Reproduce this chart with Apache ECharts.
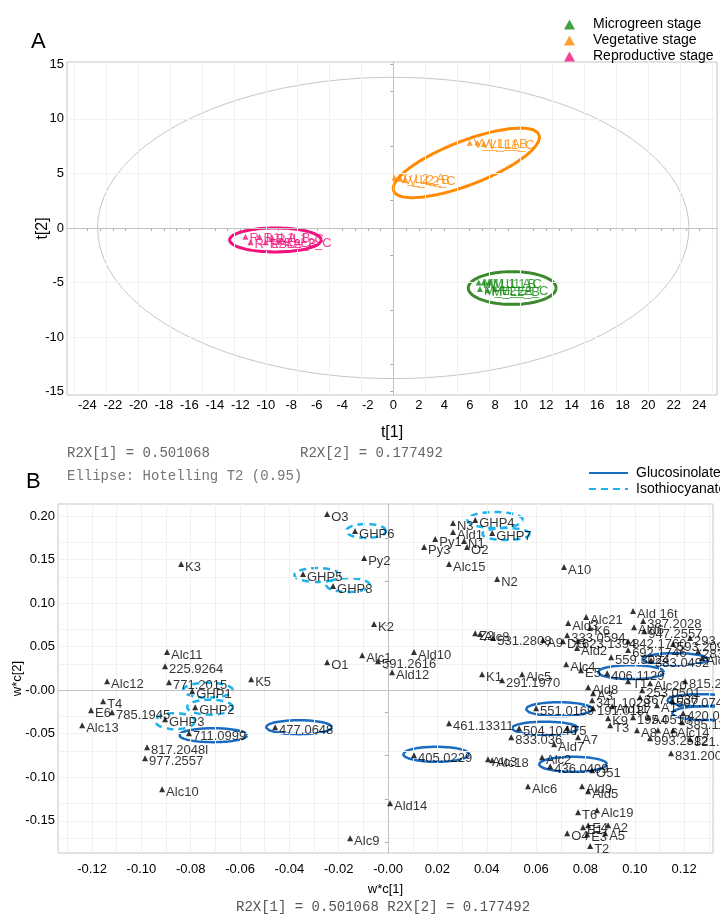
<!DOCTYPE html>
<html><head><meta charset="utf-8">
<script src="https://cdn.jsdelivr.net/npm/echarts@6/dist/echarts.min.js"></script>
<style>html,body{margin:0;padding:0;background:#fff}#c{width:720px;height:915px}</style>
</head><body><div id="c"></div>
<script>
// ---------- Panel A : scores t[1] / t[2] ----------
const stageNames = ['Microgreen stage', 'Vegetative stage', 'Reproductive stage'];
const microLabels = ['M_L1_A', 'M_L1_B', 'M_L1_C', 'M_L2_A', 'M_L2_B', 'M_L2_C'];
const microScores = [[6.7,-5.0],[7.1,-5.0],[7.5,-5.0],[6.8,-5.6],[7.4,-5.7],[8.0,-5.6]];
const vegLabels = ['V_L1_A', 'V_L1_B', 'V_L1_C', 'V_L2_A', 'V_L2_B', 'V_L2_C'];
const vegScores = [[6.0,7.8],[6.6,7.8],[7.1,7.7],[0.1,4.6],[0.5,4.5],[0.9,4.4]];
const repLabels = ['R_L1_A', 'R_L1_B', 'R_L1_C', 'R_L2_A', 'R_L2_B', 'R_L2_C'];
const repScores = [[-11.6,-0.8],[-10.5,-0.8],[-9.5,-0.9],[-11.2,-1.3],[-10.0,-1.3],[-8.9,-1.2]];
// ellipses: [centre t1, centre t2, axis1 dt1, axis1 dt2, axis2 dt1, axis2 dt2]
const hotellingEllipse = [0, 0, 23.2, 0, 0, 13.8];
const microEllipse = [9.33, -5.5, 3.45, 0, 0, 1.5];
const vegEllipse = [5.73, 5.96, 5.71, 2.57, 0.62, -1.88];
const repEllipse = [-9.25, -1.1, 3.6, 0, 0, 1.1];
const tickLabelsAx = [-24,-22,-20,-18,-16,-14,-12,-10,-8,-6,-4,-2,0,2,4,6,8,10,12,14,16,18,20,22,24];
const tickLabelsAy = [-15,-10,-5,0,5,10,15];

// ---------- Panel B : loadings w*c[1] / w*c[2] ----------
const loadNames = ['O3','GHP6','K3','GHP5','GHP8','Py2','N3','GHP4','Ald1','Py1','N1','GHP7','O2','Py3','Alc15','A10','N2','K2',
 'Alc11','225.9264','O1','Alc12','771.2015','K5','GHP1','T4','E6','785.1945','GHP2','GHP3','Alc13','711.0999','477.0648','817.2048l','977.2557','Alc10',
 'Alc1','591.2616','Ald10','Ald12','K1','291.1970','Alc5','Z2','Alc8','531.2808','A9','DG','Alc21','Ald3','K6','333.0594','Ald2',
 'Ald 16t','387.2028','Ald6','947.2557','293.2075','623.1394','842.1760','593.2093','692.1746','283.1076','Alc4','E5','559.3024','406.1129','383.0492','Alc17',
 'T1','Alc20','815.2002','Ald8','253.0501','A3','341.1029','367.1030','507.0742','A1','551.0169','191.0187','Ald11','195.0510','A4','420.0468',
 'K9','T3','385.1142','A8','A6','Alc14','993.2512','821.2103','831.2008','461.13311','504.1040','T5','A7','833.036','Ald7','405.0229',
 'Alc3','Alc18','Alc2','436.0409','O51','Alc6','Ald9','Ald5','Ald14','T6','Alc19','E4','E1','A2','O4','E3','A5','Alc9','T2'];
const loadValues = [[-0.0247,0.2023],[-0.0134,0.1828],[-0.0839,0.1448],[-0.0345,0.1333],[-0.0223,0.1195],[-0.0097,0.1517],[0.0263,0.1920],[0.0353,0.1954],
 [0.0263,0.1816],[0.0191,0.1736],[0.0308,0.1713],[0.0422,0.1805],[0.0320,0.1644],[0.0146,0.1644],[0.0247,0.1448],[0.0713,0.1414],[0.0442,0.1276],[-0.0057,0.0759],
 [-0.0896,0.0437],[-0.0904,0.0276],[-0.0247,0.0322],[-0.1139,0.0103],[-0.0888,0.0092],[-0.0555,0.0126],[-0.0794,-0.0011],[-0.1155,-0.0126],[-0.1204,-0.0230],
 [-0.1119,-0.0253],[-0.0782,-0.0195],[-0.0904,-0.0333],[-0.1240,-0.0402],[-0.0807,-0.0494],[-0.0458,-0.0425],[-0.0977,-0.0655],[-0.0985,-0.0782],[-0.0916,-0.1138],
 [-0.0105,0.0402],[-0.0041,0.0333],[0.0105,0.0437],[0.0016,0.0207],[0.0381,0.0184],[0.0462,0.0115],[0.0543,0.0184],[0.0353,0.0655],[0.0373,0.0644],[0.0426,0.0598],
 [0.0628,0.0575],[0.0709,0.0563],[0.0803,0.0839],[0.0730,0.0770],[0.0819,0.0713],[0.0726,0.0632],[0.0766,0.0483],
 [0.0993,0.0908],[0.1034,0.0793],[0.0997,0.0724],[0.1038,0.0678],[0.1224,0.0598],[0.0770,0.0563],[0.0973,0.0563],[0.1155,0.0529],[0.0973,0.0460],[0.1257,0.0448],
 [0.0722,0.0299],[0.0782,0.0230],[0.0904,0.0379],[0.0888,0.0195],[0.1066,0.0345],[0.1273,0.0368],
 [0.0973,0.0103],[0.1062,0.0080],[0.1204,0.0103],[0.0811,0.0034],[0.1030,0.0000],[0.0831,-0.0034],[0.0827,-0.0115],[0.1021,-0.0080],[0.1151,-0.0115],[0.1090,-0.0172],
 [0.0600,-0.0207],[0.0831,-0.0207],[0.0908,-0.0184],[0.0993,-0.0310],[0.1054,-0.0310],[0.1196,-0.0264],
 [0.0892,-0.0322],[0.0900,-0.0402],[0.1192,-0.0368],[0.1009,-0.0460],[0.1094,-0.0460],[0.1155,-0.0460],[0.1062,-0.0552],[0.1224,-0.0563],[0.1147,-0.0724],
 [0.0247,-0.0379],[0.0531,-0.0437],[0.0726,-0.0437],[0.0770,-0.0540],[0.0499,-0.0540],[0.0673,-0.0621],[0.0105,-0.0747],
 [0.0405,-0.0793],[0.0422,-0.0805],[0.0624,-0.0770],[0.0657,-0.0874],[0.0827,-0.0920],[0.0567,-0.1103],[0.0786,-0.1103],[0.0811,-0.1161],[0.0008,-0.1299],
 [0.0770,-0.1402],[0.0847,-0.1379],[0.0811,-0.1552],[0.0790,-0.1575],[0.0892,-0.1552],[0.0726,-0.1644],[0.0807,-0.1655],[0.0880,-0.1644],[-0.0154,-0.1701],[0.0819,-0.1790]];
// annotation ellipses [cx, cy, rx, ry]
const glucosinolateEllipses = [[-0.0709,-0.0517,0.0138,0.0080],[-0.0361,-0.0425,0.0134,0.0080],[0.0195,-0.0736,0.0134,0.0086],[0.0636,-0.0437,0.0134,0.0075],
 [0.0693,-0.0218,0.0134,0.0080],[0.0750,-0.0851,0.0138,0.0086],[0.0985,0.0207,0.0134,0.0080],[0.1163,0.0356,0.0134,0.0069],[0.1265,-0.0115,0.0134,0.0069],[0.1285,-0.0264,0.0134,0.0080]];
const isothiocyanateEllipses = [[-0.0089,0.1828,0.0081,0.0080],[-0.0288,0.1322,0.0093,0.0080],[-0.0162,0.1207,0.0089,0.0080],[0.0434,0.1954,0.0113,0.0092],
 [0.0478,0.1793,0.0097,0.0069],[-0.0730,0.0000,0.0101,0.0086],[-0.0722,-0.0195,0.0093,0.0086],[-0.0863,-0.0356,0.0081,0.0092]];
const tickLabelsBx = [-0.12,-0.10,-0.08,-0.06,-0.04,-0.02,0,0.02,0.04,0.06,0.08,0.10,0.12];
const tickLabelsBy = [-0.15,-0.10,-0.05,0,0.05,0.10,0.15,0.20];

// ---------- helpers ----------
function ellipsePoints(e) {
  const pts = [];
  for (let i = 0; i <= 90; i++) {
    const t = 2 * Math.PI * i / 90, c = Math.cos(t), s = Math.sin(t);
    pts.push([e[0] + e[2] * c + e[4] * s, e[1] + e[3] * c + e[5] * s]);
  }
  return pts;
}
function range(a, b, step) { const r = []; for (let v = a; v <= b + 1e-9; v += step) r.push(+v.toFixed(6)); return r; }
const FONT = 'Liberation Sans, Arial, sans-serif';
const MONO = 'Liberation Mono, DejaVu Sans Mono, monospace';
const fmt2 = v => (Math.abs(v) < 1e-9 ? '-0.00' : v.toFixed(2));

const colMicro = '#138a13', colVeg = '#ff8a00', colRep = '#f2127d';
const ellMicro = '#3b8a2d';
const frameCol = '#c4c4c4', gridCol = '#f1f1f1';

function scoreSeries(name, labels, scores, col) {
  return { type: 'scatter', name, xAxisIndex: 0, yAxisIndex: 0, symbol: 'triangle', symbolSize: 6,
    itemStyle: { color: col }, z: 5,
    data: labels.map((n, i) => ({ name: n, value: scores[i] })),
    label: { show: true, position: 'right', distance: 1, offset: [0, 2], formatter: '{b}', color: col, fontSize: 13, fontFamily: FONT } };
}
function ellSeries(name, pts, xi, col, width, type, z) {
  return { type: 'line', name, xAxisIndex: xi, yAxisIndex: xi, data: pts, symbol: 'none', showSymbol: false, silent: true, z: z || 3,
    lineStyle: { color: col, width, type: type || 'solid' }, itemStyle: { color: col }, clip: true };
}
function gridLines(xi, xs, ys, col) {
  return { type: 'line', xAxisIndex: xi, yAxisIndex: xi, data: [], silent: true, z: 1,
    markLine: { silent: true, symbol: ['none', 'none'], label: { show: false }, animation: false,
      lineStyle: { color: col, width: 1, type: 'solid' },
      data: xs.map(v => ({ xAxis: v })).concat(ys.map(v => ({ yAxis: v }))) } };
}

const series = [
  gridLines(0, range(-25, 25, 2.5), [-10, -5, 5, 10], gridCol),
  gridLines(0, [0], [0], '#c2c2c2'),
  ellSeries('', ellipsePoints(hotellingEllipse), 0, '#c6c6c6', 1),
  ellSeries('', ellipsePoints(microEllipse), 0, ellMicro, 3),
  ellSeries('', ellipsePoints(vegEllipse), 0, colVeg, 3),
  ellSeries('', ellipsePoints(repEllipse), 0, colRep, 3),
  scoreSeries(stageNames[0], microLabels, microScores, colMicro),
  scoreSeries(stageNames[1], vegLabels, vegScores, colVeg),
  scoreSeries(stageNames[2], repLabels, repScores, colRep),
  gridLines(1, range(-0.13, 0.13, 0.01), range(-0.175, 0.2, 0.025), gridCol),
  gridLines(1, [0], [0], '#c2c2c2'),
];
glucosinolateEllipses.forEach(e => series.push(ellSeries('Glucosinolate', ellipsePoints([e[0], e[1], e[2], 0, 0, e[3]]), 1, '#1a6cc0', 2.5, 'solid', 4)));
isothiocyanateEllipses.forEach(e => series.push(ellSeries('Isothiocyanate', ellipsePoints([e[0], e[1], e[2], 0, 0, e[3]]), 1, '#1bb3ec', 2.5, [7, 5], 4)));
series.push({ type: 'scatter', name: 'loadings', xAxisIndex: 1, yAxisIndex: 1, symbol: 'triangle', symbolSize: 6,
  itemStyle: { color: '#000' }, z: 6,
  data: loadNames.map((n, i) => ({ name: n, value: loadValues[i] })),
  label: { show: true, position: 'right', distance: 1, offset: [0, 3], formatter: '{b}', color: '#000', fontSize: 13, fontFamily: FONT } });

function valAxis(gi, min, max, labels, ticks, fmt, name, nameGap, nameSize, margin) {
  return { type: 'value', gridIndex: gi, min, max, name, nameLocation: 'middle', nameGap, nameMoveOverlap: false,
    nameTextStyle: { color: '#000', fontSize: nameSize, fontFamily: FONT },
    axisLine: { show: true, lineStyle: { color: frameCol } },
    axisTick: { show: true, inside: false, length: 3, customValues: ticks, lineStyle: { color: '#aaa' } },
    axisLabel: { customValues: labels, formatter: fmt, color: '#000', fontSize: 13, fontFamily: FONT, margin },
    splitLine: { show: false } };
}

const option = {
  animation: false,
  backgroundColor: '#fff',
  textStyle: { fontFamily: FONT },
  grid: [
    { left: 67, right: 3, top: 62, bottom: 520, show: true, borderColor: frameCol, borderWidth: 1 },
    { left: 58, right: 7, top: 504, bottom: 62, show: true, borderColor: frameCol, borderWidth: 1 }
  ],
  xAxis: [
    valAxis(0, -25.6, 25.4, tickLabelsAx, range(-25, 25, 1), v => String(v), 't[1]', 30, 16, 4),
    valAxis(1, -0.1338, 0.1317, tickLabelsBx, range(-0.13, 0.13, 0.01), fmt2, 'w*c[1]', 30, 13, 10)
  ],
  yAxis: [
    valAxis(0, -15.3, 15.2, tickLabelsAy, range(-15, 15, 2.5), v => String(v), 't[2]', 16, 16, 3),
    valAxis(1, -0.187, 0.2138, tickLabelsBy, range(-0.175, 0.2, 0.025), fmt2, 'w*c[2]', 34, 13, 3)
  ],
  legend: [
    { data: stageNames, orient: 'vertical', left: 559, top: 12, icon: 'triangle', itemWidth: 11, itemHeight: 10, itemGap: 1,
      textStyle: { fontSize: 14, color: '#000', fontFamily: FONT, lineHeight: 15, padding: [0, 0, 0, 13] }, selectedMode: false },
    { data: ['Glucosinolate', 'Isothiocyanate'], orient: 'vertical', left: 583, top: 461, itemWidth: 39, itemHeight: 12, itemGap: 2,
      itemStyle: { opacity: 0 },
      textStyle: { fontSize: 14, color: '#000', fontFamily: FONT, padding: [0, 0, 0, 3] }, selectedMode: false }
  ],
  graphic: [
    { type: 'text', left: 31, top: 31, style: { text: 'A', fontSize: 22, fill: '#000', fontFamily: FONT } },
    { type: 'text', left: 67, top: 446, style: { text: 'R2X[1] = 0.501068', fontSize: 14, fill: '#666', fontFamily: MONO } },
    { type: 'text', left: 300, top: 446, style: { text: 'R2X[2] = 0.177492', fontSize: 14, fill: '#666', fontFamily: MONO } },
    { type: 'text', left: 67, top: 469, style: { text: 'Ellipse: Hotelling T2 (0.95)', fontSize: 14, fill: '#777', fontFamily: MONO } },
    { type: 'text', left: 26, top: 471, style: { text: 'B', fontSize: 22, fill: '#000', fontFamily: FONT } },
    { type: 'text', left: 236, top: 900, style: { text: 'R2X[1] = 0.501068 R2X[2] = 0.177492', fontSize: 14, fill: '#555', fontFamily: MONO } }
  ],
  series
};
const chart = echarts.init(document.getElementById('c'));
chart.setOption(option);
</script></body></html>
